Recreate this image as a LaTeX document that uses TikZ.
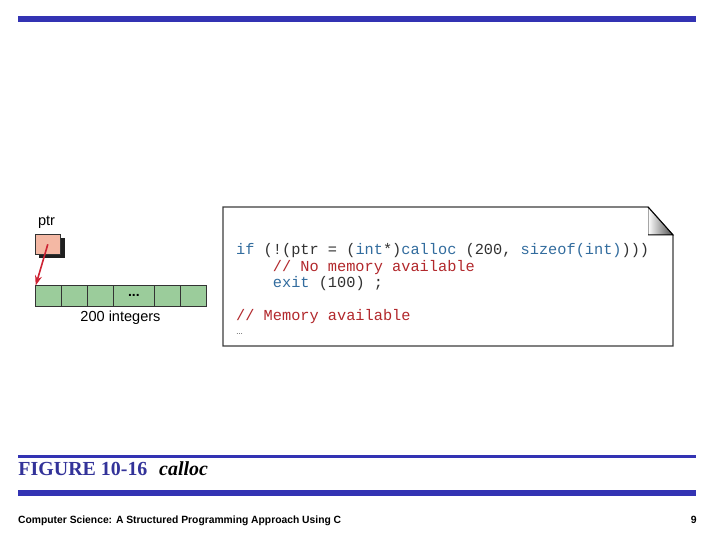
\documentclass[tikz,border=0pt]{standalone}
\usepackage{fontspec}
\usepackage{graphicx}
\setmainfont{Liberation Serif}
\setsansfont{Liberation Sans}
\newfontfamily\codefont{Liberation Mono}
\usetikzlibrary{arrows.meta}
\definecolor{barblue}{RGB}{51,51,179}
\definecolor{titleblue}{RGB}{51,51,153}
\definecolor{cellgreen}{RGB}{155,204,155}
\definecolor{ptrpink}{RGB}{244,184,164}
\definecolor{arrowred}{RGB}{204,34,51}
\definecolor{cblue}{RGB}{50,108,158}
\definecolor{cred}{RGB}{178,40,44}
\definecolor{cblack}{RGB}{50,50,50}
\definecolor{frame}{RGB}{60,60,60}
\tikzset{
  bar/.style={fill=barblue},
  cellbox/.style={draw=black!80, line width=0.9bp, fill=cellgreen, minimum height=20.5bp,
    inner sep=0pt, outer sep=0pt, anchor=north west, font=\sffamily\bfseries\fontsize{14}{14}\selectfont},
  ptrbox/.style={draw=black!80, line width=0.9bp, fill=ptrpink, minimum width=25.6bp,
    minimum height=19.6bp, inner sep=0pt, outer sep=0pt, anchor=north west},
  shadowbox/.style={fill=black!88, minimum width=25.6bp, minimum height=19.6bp,
    inner sep=0pt, outer sep=0pt, anchor=north west},
  lbl/.style={anchor=base, inner sep=0pt, font=\sffamily\fontsize{14.6}{15}\selectfont},
  ptrarrow/.style={draw=arrowred, line width=1.6bp, -{Stealth[length=10bp,width=7bp]}},
  codeline/.style={anchor=base west, inner sep=0pt, text=cblack,
    font=\codefont\fontsize{15.35}{17}\selectfont},
}
\begin{document}
\begin{tikzpicture}[x=1bp,y=-1bp]
\useasboundingbox (0,0) rectangle (720,540);
% bars
\fill[bar] (18,16) rectangle (696,22);
\fill[bar] (18,455) rectangle (696,458);
\fill[bar] (18,490) rectangle (696,496);
% pointer
\node[lbl] (ptrlabel) at (46.5,226) {ptr};
\node[shadowbox] (ptrshadow) at (39,238.5) {};
\node[ptrbox] (ptr) at (35,234.5) {};
% array
\node[cellbox, minimum width=26bp] (c1) at (35.7,285.5) {};
\node[cellbox, minimum width=26bp] (c2) at (61.7,285.5) {};
\node[cellbox, minimum width=26bp] (c3) at (87.7,285.5) {};
\node[cellbox, minimum width=40.3bp] (c4) at (113.7,285.5) {...};
\node[cellbox, minimum width=26.3bp] (c5) at (154,285.5) {};
\node[cellbox, minimum width=26.4bp] (c6) at (180.3,285.5) {};
\node[lbl] (arrlabel) at (120.5,321.7) {200 integers};
\draw[ptrarrow] (ptr.center) -- (c1.north west);
% code box
\draw[draw=frame, line width=1.2bp, fill=white] (223,207) -- (648,207) -- (673,235) -- (673,346) -- (223,346) -- cycle;
\shade[left color=white, right color=black!70] (648,207) -- (673,235) -- (648,235) -- cycle;
\draw[black!35, line width=0.6bp] (648,207) -- (648,235);
\draw[black, line width=1bp] (648,207) -- (673,235) -- (648,235);
\node[codeline] (l1) at (236,254.5) {\textcolor{cblue}{if} (!(ptr = (\textcolor{cblue}{int}*)\textcolor{cblue}{calloc} (200, \textcolor{cblue}{sizeof(int)})))};
\node[codeline, text=cred] (l2) at (236,271.5) {\ \ \ \ // No memory available};
\node[codeline] (l3) at (236,287.5) {\ \ \ \ \textcolor{cblue}{exit} (100) ;};
\node[codeline, text=cred] (l4) at (236,320.5) {// Memory available};
\node[anchor=base west, inner sep=0pt, font=\sffamily\fontsize{7}{7}\selectfont] (l5) at (236,334.5) {\dots};
% caption
\node[anchor=base west, inner sep=0pt, text=titleblue, font=\fontsize{20}{22}\selectfont\bfseries] (fig) at (18.3,475) {FIGURE 10-16};
\node[anchor=base west, inner sep=0pt, font=\fontsize{20}{22}\selectfont\bfseries\itshape] (figname) at (159,475) {calloc};
% footer
\node[anchor=base west, inner sep=0pt] (footer) at (18,523.3)
  {\resizebox{323bp}{7.6bp}{\sffamily\bfseries Computer Science: A Structured Programming Approach Using C}};
\node[anchor=base east, inner sep=0pt, font=\sffamily\bfseries\fontsize{10.5}{11}\selectfont] (page) at (697,523.3) {9};
\end{tikzpicture}
\end{document}
